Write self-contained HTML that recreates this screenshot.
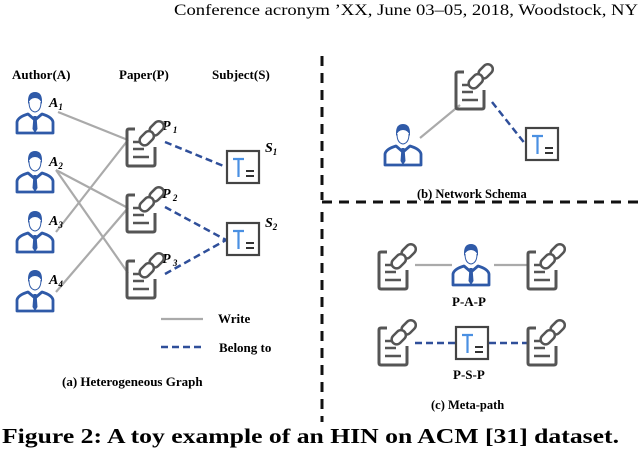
<!DOCTYPE html>
<html><head><meta charset="utf-8"><style>
html,body{margin:0;padding:0;background:#fff;}
svg{display:block;}
text{font-family:"Liberation Serif",serif;}
.b{font-weight:bold;}
</style></head><body>
<svg width="640" height="452" viewBox="0 0 640 452" xmlns="http://www.w3.org/2000/svg">
<defs>
<g id="person">
  <path d="M12 9 Q12 0 19 0 Q26 0 26 9 L26 12 Q24 6 19 6 Q14 6 12 12 Z" fill="#2f5aa8"/>
  <path d="M13 10 Q13 19 19 20 Q25 19 25 10" fill="none" stroke="#2f5aa8" stroke-width="1"/>
  <path d="M1 41 L1 30 Q2 25 12 22 L19 28 L26 22 Q36 25 37 30 L37 41 Z" fill="none" stroke="#2f5aa8" stroke-width="2.8" stroke-linejoin="round"/>
  <path d="M17.5 24 L20.5 24 L21.5 37 L19 41 L16.5 37 Z" fill="#2f5aa8"/>
</g>
<g id="paper">
  <path d="M8 8 L2 8 Q0 8 0 10 L0 43 Q0 45 2 45 L26 45 Q28 45 28 43 L28 26" fill="none" stroke="#555" stroke-width="3" stroke-linejoin="round"/>
  <line x1="6" y1="21" x2="12" y2="21" stroke="#555" stroke-width="2.5"/>
  <line x1="6" y1="28" x2="17" y2="28" stroke="#555" stroke-width="2.5"/>
  <line x1="6" y1="36" x2="22" y2="36" stroke="#555" stroke-width="2.5"/>
  <g transform="translate(24 13) rotate(45)">
    <rect x="-5" y="-16" width="10" height="16" rx="5" fill="#fff" stroke="#555" stroke-width="2.5"/>
    <rect x="-5" y="-2" width="10" height="16" rx="5" fill="#fff" stroke="#555" stroke-width="2.5"/>
  </g>
</g>
<g id="subj">
  <rect x="1" y="1" width="32" height="32" fill="#fff" stroke="#444" stroke-width="2.2"/>
  <path d="M7 9 L18 9 M12.5 9 L12.5 27" stroke="#4a90e2" stroke-width="2.2" fill="none"/>
  <line x1="20" y1="21" x2="28" y2="21" stroke="#333" stroke-width="2"/>
  <line x1="20" y1="26" x2="28" y2="26" stroke="#333" stroke-width="2"/>
</g>
</defs>

<text x="638" y="15" font-size="16" text-anchor="end" textLength="464" lengthAdjust="spacingAndGlyphs">Conference acronym ’XX, June 03–05, 2018, Woodstock, NY</text>

<!-- (a) -->
<text class="b" x="12" y="79" font-size="13">Author(A)</text>
<text class="b" x="119" y="79" font-size="13">Paper(P)</text>
<text class="b" x="212" y="79" font-size="13">Subject(S)</text>

<g stroke="#aaa" stroke-width="2.2">
  <line x1="58" y1="112" x2="128" y2="140"/>
  <line x1="56" y1="170" x2="128" y2="208"/>
  <line x1="56" y1="170" x2="128" y2="273"/>
  <line x1="56" y1="232" x2="128" y2="140"/>
  <line x1="56" y1="292" x2="128" y2="208"/>
</g>
<g stroke="#2f4f9a" stroke-width="2.5" stroke-dasharray="7,4">
  <line x1="165" y1="142" x2="226" y2="167"/>
  <line x1="165" y1="207" x2="226" y2="240"/>
  <line x1="165" y1="274" x2="226" y2="240"/>
</g>

<use href="#person" x="16" y="92"/>
<use href="#person" x="16" y="151"/>
<use href="#person" x="16" y="211"/>
<use href="#person" x="16" y="270"/>
<g font-style="italic" font-weight="bold" font-size="14">
<text x="49" y="107">A<tspan font-size="9" dy="3">1</tspan></text>
<text x="49" y="166">A<tspan font-size="9" dy="3">2</tspan></text>
<text x="49" y="225">A<tspan font-size="9" dy="3">3</tspan></text>
<text x="49" y="284">A<tspan font-size="9" dy="3">4</tspan></text>
<text x="162" y="130">P<tspan font-size="9" dy="3"> 1</tspan></text>
<text x="162" y="198">P<tspan font-size="9" dy="3"> 2</tspan></text>
<text x="162" y="263">P<tspan font-size="9" dy="3"> 3</tspan></text>
<text x="265" y="152">S<tspan font-size="9" dy="3">1</tspan></text>
<text x="265" y="227">S<tspan font-size="9" dy="3">2</tspan></text>
</g>
<use href="#paper" x="127" y="121"/>
<use href="#paper" x="127" y="187"/>
<use href="#paper" x="127" y="253"/>
<use href="#subj" x="226" y="150"/>
<use href="#subj" x="226" y="222"/>

<line x1="161" y1="319" x2="203" y2="319" stroke="#aaa" stroke-width="2.2"/>
<line x1="161" y1="347" x2="203" y2="347" stroke="#2f4f9a" stroke-width="2.5" stroke-dasharray="7,4"/>
<text class="b" x="218" y="323" font-size="13">Write</text>
<text class="b" x="219" y="352" font-size="13">Belong to</text>
<text class="b" x="62" y="386" font-size="13">(a) Heterogeneous Graph</text>

<!-- dividers -->
<line x1="322" y1="56" x2="322" y2="200" stroke="#111" stroke-width="3" stroke-dasharray="10,7"/>
<line x1="322" y1="202" x2="640" y2="202" stroke="#111" stroke-width="3" stroke-dasharray="10,7"/>
<line x1="322" y1="212" x2="322" y2="422" stroke="#111" stroke-width="3" stroke-dasharray="10,7"/>

<!-- (b) -->
<line x1="420" y1="138" x2="460" y2="105" stroke="#aaa" stroke-width="2.2"/>
<line x1="492" y1="102" x2="526" y2="145" stroke="#2f4f9a" stroke-width="2.5" stroke-dasharray="7,4"/>
<use href="#paper" x="456" y="64"/>
<use href="#person" x="384" y="124"/>
<use href="#subj" x="525" y="127"/>
<text class="b" x="417" y="198" font-size="12.5">(b) Network Schema</text>

<!-- (c) -->
<line x1="415" y1="265" x2="452" y2="265" stroke="#aaa" stroke-width="2.2"/>
<line x1="494" y1="265" x2="528" y2="265" stroke="#aaa" stroke-width="2.2"/>
<line x1="415" y1="343" x2="455" y2="343" stroke="#2f4f9a" stroke-width="2.5" stroke-dasharray="7,4"/>
<line x1="489" y1="343" x2="528" y2="343" stroke="#2f4f9a" stroke-width="2.5" stroke-dasharray="7,4"/>
<use href="#paper" x="379" y="244"/>
<use href="#person" x="452" y="244"/>
<use href="#paper" x="528" y="244"/>
<text class="b" x="452" y="306" font-size="13">P-A-P</text>
<use href="#paper" x="379" y="320"/>
<use href="#subj" x="455" y="326"/>
<use href="#paper" x="528" y="320"/>
<text class="b" x="453" y="379" font-size="13">P-S-P</text>
<text class="b" x="431" y="409" font-size="12.5">(c) Meta-path</text>

<text class="b" x="2" y="443" font-size="21" textLength="617" lengthAdjust="spacingAndGlyphs">Figure 2: A toy example of an HIN on ACM [31] dataset.</text>
</svg>
</body></html>
